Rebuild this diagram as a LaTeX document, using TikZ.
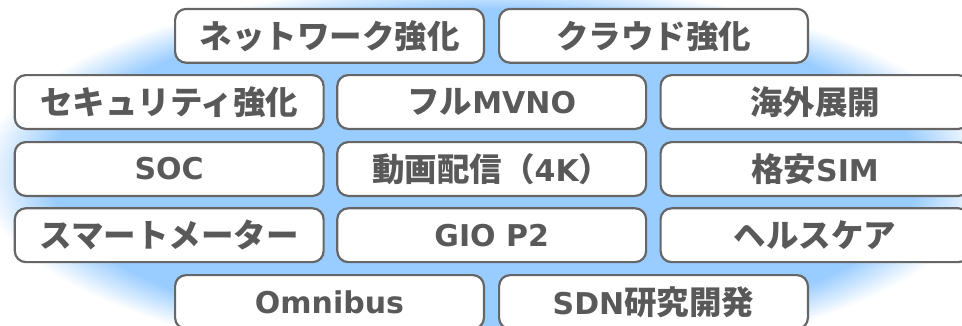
\documentclass[tikz,border=0pt]{standalone}
\usepackage{fontspec}
\setmainfont{DejaVu Sans}
\newfontfamily\jpfont{Noto Sans CJK JP}
\newcommand\J[1]{{\jpfont\bfseries\fontsize{32.5}{38}\selectfont #1}}
\definecolor{txt}{RGB}{89,89,89}
\definecolor{edge}{RGB}{102,102,102}
\definecolor{glow}{RGB}{153,204,255}
\pgfdeclareradialshading{glowshade}{\pgfpoint{0bp}{0bp}}{color(0bp)=(glow); color(21.5bp)=(glow); color(25bp)=(white); color(50bp)=(white)}
\begin{document}
\begin{tikzpicture}[x=1pt,y=-1pt,
  box/.style={draw=edge, line width=2.2pt, rounded corners=11pt, fill=white,
    minimum width=308.8pt, minimum height=53.8pt, inner sep=0pt, text=txt,
    font=\fontsize{30}{36}\selectfont\bfseries}]
\useasboundingbox (0,0) rectangle (962,325);
\clip (0,0) rectangle (962,325);
\shade[shading=glowshade] (484,174) ellipse [x radius=505, y radius=192];
\node[box] (net) at (329.5,35.8) {\J{ネットワーク強化}};
\node[box] (cloud) at (653.5,35.8) {\J{クラウド強化}};
\node[box] (sec) at (169.2,102) {\J{セキュリティ強化}};
\node[box] (mvno) at (491.7,102) {\J{フル}MVNO};
\node[box] (kaigai) at (815,102) {\J{海外展開}};
\node[box] (soc) at (169.2,169) {SOC};
\node[box] (video) at (491.7,169) {\J{動画配信（}4K\J{）}};
\node[box] (sim) at (815,169) {\J{格安}SIM};
\node[box] (smart) at (169.2,235.2) {\J{スマートメーター}};
\node[box] (gio) at (491.7,235.2) {GIO P2};
\node[box] (health) at (815,235.2) {\J{ヘルスケア}};
\node[box] (omni) at (329.5,302) {Omnibus};
\node[box] (sdn) at (653.5,302) {SDN\J{研究開発}};
\end{tikzpicture}
\end{document}
